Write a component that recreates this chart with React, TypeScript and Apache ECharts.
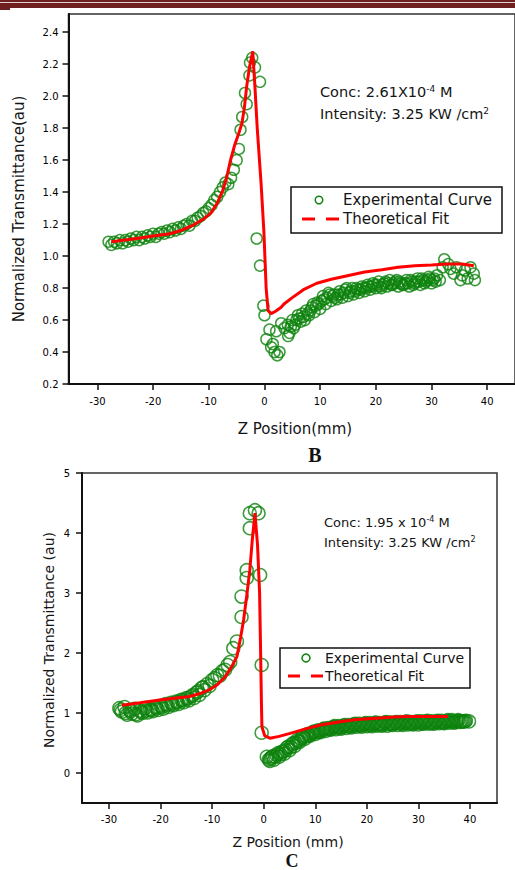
import React, { useEffect, useRef } from 'react';
import * as echarts from 'echarts';

// ---------- Panel B data ----------
const zTicksB = [-30, -20, -10, 0, 10, 20, 30, 40];
const tTicksB = [0.2, 0.4, 0.6, 0.8, 1.0, 1.2, 1.4, 1.6, 1.8, 2.0, 2.2, 2.4];

const expBz = [
  -28, -27.5, -27, -26.5, -26, -25.5, -25, -24.5, -24, -23.5, -23, -22.5, -22, -21.5, -21, -20.5, -20,
  -19.5, -19, -18.5, -18, -17.5, -17, -16.5, -16, -15.5, -15, -14.5, -14, -13.5, -13, -12.5, -12, -11.5,
  -11, -10.5, -10, -9.5, -9, -8.5, -8, -7.5, -7, -6.5, -6, -5.5, -5, -4.6, -4.3, -4.0, -3.5, -3.2, -2.7,
  -2.6, -2.2, -1.7, -0.8, -1.4, -0.8, -0.2, 0.0, 0.35, 0.9, 1.2, 1.5, 1.8, 2.1, 2.3, 2.7, 3.0,
  3.6, 4.2, 4.5, 5.0, 5.5, 6.0, 6.5, 7.0, 7.5, 8.0, 8.5, 9.0, 9.5, 10.0, 10.5, 11.0, 11.5, 12.0, 12.5,
  13.0, 13.5, 14.0, 14.5, 15.0, 15.5, 16.0, 16.5, 17.0, 17.5, 18.0, 18.5, 19.0, 19.5, 20.0, 20.5, 21.0,
  21.5, 22.0, 22.5, 23.0, 23.5, 24.0, 24.5, 25.0, 25.5, 26.0, 26.5, 27.0, 27.5, 28.0, 28.5, 29.0, 29.5,
  30.0, 30.5, 31.0, 31.5, 32.0, 32.3, 33.0, 33.4, 34.0, 34.5, 35.2, 35.5, 36.0, 36.5, 37.0, 37.6, 37.8,
];
const expBt = [
  1.09, 1.07, 1.09, 1.08, 1.10, 1.08, 1.10, 1.09, 1.11, 1.10, 1.12, 1.10, 1.12, 1.11, 1.13, 1.12, 1.14,
  1.12, 1.14, 1.15, 1.14, 1.16, 1.15, 1.17, 1.16, 1.18, 1.17, 1.19, 1.20, 1.19, 1.22, 1.22, 1.24, 1.25,
  1.27, 1.28, 1.30, 1.32, 1.35, 1.37, 1.40, 1.43, 1.46, 1.45, 1.49, 1.54, 1.60, 1.67, 1.79, 1.87, 2.02, 1.95, 2.13,
  2.21, 2.24, 2.18, 2.09, 1.11, 0.94, 0.69, 0.63, 0.48, 0.54, 0.43, 0.45, 0.40, 0.53, 0.38, 0.40, 0.58,
  0.55, 0.57, 0.52, 0.60, 0.57, 0.63, 0.59, 0.62, 0.66, 0.63, 0.68, 0.65, 0.71, 0.67, 0.75, 0.70, 0.77, 0.72, 0.76,
  0.73, 0.78, 0.74, 0.79, 0.75, 0.78, 0.76, 0.80, 0.77, 0.81, 0.78, 0.82, 0.79, 0.83, 0.80, 0.84, 0.80,
  0.83, 0.81, 0.85, 0.82, 0.84, 0.81, 0.83, 0.82, 0.85, 0.81, 0.84, 0.83, 0.86, 0.82, 0.85, 0.84, 0.87,
  0.83, 0.86, 0.88, 0.85, 0.93, 0.98, 0.95, 0.92, 0.89, 0.93, 0.85, 0.88, 0.91, 0.86, 0.93, 0.89, 0.85,
];
// extra (interleaved) readings of the dense band after the focus
const expB2z = [
  4.25, 4.75, 5.25, 5.75, 6.25, 6.75, 7.25, 7.75, 8.25, 8.75, 9.25, 9.75, 10.25, 10.75, 11.25, 11.75,
  12.25, 12.75, 13.25, 13.75, 14.25, 14.75, 15.25, 15.75, 16.25, 16.75, 17.25, 17.75, 18.25, 18.75,
  19.25, 19.75, 20.25, 20.75, 21.25, 21.75, 22.25, 22.75, 23.25, 23.75, 24.25, 24.75, 25.25, 25.75,
  26.25, 26.75, 27.25, 27.75, 28.25, 28.75, 29.25, 29.75, 30.25, 30.75,
];
const expB2t = [
  0.50, 0.56, 0.55, 0.60, 0.61, 0.64, 0.60, 0.64, 0.66, 0.70, 0.69, 0.70, 0.72, 0.73, 0.74, 0.76,
  0.75, 0.74, 0.76, 0.76, 0.77, 0.80, 0.77, 0.80, 0.78, 0.79, 0.79, 0.80, 0.80, 0.81,
  0.81, 0.82, 0.82, 0.81, 0.82, 0.84, 0.83, 0.82, 0.83, 0.85, 0.84, 0.82, 0.83, 0.83,
  0.85, 0.82, 0.84, 0.84, 0.86, 0.83, 0.85, 0.86, 0.85, 0.84,
];
const fitBz = [
  -27.5, -25, -22, -20, -17, -15, -13, -11, -9.6, -8.5, -7.5, -6.8, -6.1, -5.3, -4.6, -4.05, -3.6, -3.2,
  -2.7, -2.1, -1.7, -1.3, -0.6, -0.1, 0.3, 0.65, 1.2, 2, 3, 3.5, 5, 7, 9.4, 12, 15.3, 18, 21.1, 24, 27,
  30, 32.8, 35.5, 37.6,
];
const fitBt = [
  1.09, 1.10, 1.115, 1.125, 1.14, 1.16, 1.19, 1.23, 1.27, 1.33, 1.41, 1.49, 1.60, 1.70, 1.77, 1.83, 1.93, 2.06,
  2.18, 2.28, 2.05, 1.80, 1.45, 1.15, 0.80, 0.66, 0.64, 0.655, 0.68, 0.70, 0.74, 0.79, 0.83, 0.855, 0.88, 0.90,
  0.915, 0.93, 0.94, 0.945, 0.95, 0.95, 0.94,
];

// ---------- Panel C data ----------
const zTicksC = [-30, -20, -10, 0, 10, 20, 30, 40];
const tTicksC = [0, 1, 2, 3, 4, 5];

const expCz = [
  -28, -27.5, -27, -26.5, -26, -25.5, -25, -24.5, -24, -23.5, -23, -22.5, -22, -21.5, -21, -20.5, -20,
  -19.5, -19, -18.5, -18, -17.5, -17, -16.5, -16, -15.5, -15, -14.5, -14, -13.5, -13, -12.5, -12, -11.5,
  -11, -10.5, -10, -9.5, -9, -8.5, -8, -7.5, -7, -6.5, -5.9, -5.2, -4.3, -4.3, -3.3, -3.3, -2.7, -2.7,
  -1.7, -1.0, -0.7, -0.4, -0.4, 0.6, 1.0, 1.2, 1.5, 2.0, 2.5, 3.0, 3.5, 4.0, 4.5, 5.0, 5.5, 6.0, 6.5,
  7.0, 7.5, 8.0, 8.5, 9.0, 9.5, 10.0, 10.5, 11.0, 11.5, 12.0, 12.5, 13.0, 13.5, 14.0, 14.5, 15.0, 15.5,
  16.0, 16.5, 17.0, 17.5, 18.0, 18.5, 19.0, 19.5, 20.0, 20.5, 21, 21.5, 22, 22.5, 23, 23.5, 24, 24.5,
  25, 25.5, 26, 26.5, 27, 27.5, 28, 28.5, 29, 29.5, 30, 30.5, 31, 31.5, 32, 32.5, 33, 33.5, 34, 34.5,
  35, 35.5, 36, 36.5, 37, 37.5, 38, 38.5, 39.2, 39.8,
];
const expCt = [
  1.08, 1.02, 1.10, 0.97, 1.05, 0.99, 1.07, 0.96, 1.04, 1.00, 1.08, 1.01, 1.06, 1.03, 1.10, 1.05, 1.12,
  1.07, 1.15, 1.10, 1.17, 1.13, 1.19, 1.15, 1.22, 1.18, 1.25, 1.21, 1.28, 1.25, 1.34, 1.30, 1.42, 1.38,
  1.48, 1.45, 1.55, 1.58, 1.63, 1.62, 1.70, 1.72, 1.80, 1.85, 2.08, 2.19, 2.60, 2.94, 3.25, 3.38, 4.08, 4.33,
  4.38, 4.33, 3.30, 1.80, 0.67, 0.27, 0.22, 0.20, 0.26, 0.22, 0.30, 0.27, 0.35, 0.32, 0.42, 0.38, 0.48, 0.45, 0.55,
  0.52, 0.60, 0.57, 0.65, 0.62, 0.68, 0.65, 0.71, 0.68, 0.73, 0.70, 0.75, 0.72, 0.77, 0.73, 0.78, 0.74, 0.79,
  0.75, 0.80, 0.76, 0.81, 0.77, 0.82, 0.77, 0.82, 0.78, 0.83, 0.78, 0.83, 0.79, 0.83, 0.79, 0.84, 0.79, 0.84,
  0.80, 0.84, 0.80, 0.85, 0.80, 0.85, 0.81, 0.85, 0.81, 0.85, 0.81, 0.86, 0.82, 0.86, 0.82, 0.86, 0.82, 0.86, 0.83, 0.87,
  0.83, 0.87, 0.84, 0.88, 0.84, 0.87, 0.85, 0.86, 0.87, 0.86,
];
// extra (interleaved) readings of the dense bands
const expC2z = [
  -27.75, -26.75, -25.75, -24.75, -23.75, -22.75, -21.75, -20.75, -19.75, -18.75, -17.75, -16.75,
  -15.75, -14.75, -13.75, -12.75, -11.75,
  1.25, 1.75, 2.25, 2.75, 3.25, 3.75, 4.25, 4.75, 5.25, 5.75, 6.25, 6.75, 7.25, 7.75, 8.25, 8.75,
  9.25, 9.75, 10.25, 10.75, 11.25, 11.75, 12.25, 12.75, 13.25, 13.75, 14.25, 14.75, 15.25, 15.75,
  16.25, 16.75, 17.25, 17.75, 18.25, 18.75, 19.25, 19.75, 20.25, 20.75, 21.25, 21.75, 22.25, 22.75,
  23.25, 23.75, 24.25, 24.75, 25.25, 25.75, 26.25, 26.75, 27.25, 27.75, 28.25, 28.75, 29.25, 29.75,
  30.25, 30.75, 31.25, 31.75, 32.25, 32.75, 33.25, 33.75, 34.25, 34.75, 35.25, 35.75, 36.25, 36.75,
  37.25, 37.75, 38.25, 38.75, 39.0,
];
const expC2t = [
  1.05, 1.00, 1.03, 0.98, 1.02, 1.04, 1.05, 1.08, 1.10, 1.13, 1.15, 1.18,
  1.21, 1.24, 1.30, 1.36, 1.43,
  0.24, 0.28, 0.27, 0.33, 0.31, 0.36, 0.38, 0.44, 0.43, 0.50, 0.50, 0.53, 0.57, 0.62, 0.61, 0.63,
  0.66, 0.69, 0.68, 0.69, 0.71, 0.74, 0.73, 0.73, 0.75, 0.78, 0.76, 0.75, 0.77, 0.80,
  0.78, 0.77, 0.79, 0.82, 0.80, 0.79, 0.80, 0.83, 0.81, 0.80, 0.81, 0.84, 0.81, 0.80,
  0.82, 0.85, 0.82, 0.81, 0.82, 0.85, 0.83, 0.82, 0.83, 0.86, 0.83, 0.82, 0.84, 0.86,
  0.84, 0.83, 0.84, 0.87, 0.84, 0.83, 0.85, 0.87, 0.85, 0.84, 0.85, 0.88, 0.86, 0.85,
  0.86, 0.88, 0.86, 0.86, 0.86,
];
const fitCz = [
  -27.5, -24, -19.8, -17, -14.6, -12.5, -10.7, -9, -7.5, -6.3, -5.2, -4.5, -3.9, -3.3, -2.7, -2.2, -1.7,
  -1.2, -0.8, -0.6, -0.45, -0.35, 0.2, 1.2, 3, 5.1, 8.3, 11, 14.8, 18, 21.2, 24.5, 27.6, 31, 35.7,
];
const fitCt = [
  1.13, 1.17, 1.22, 1.25, 1.27, 1.32, 1.38, 1.47, 1.60, 1.76, 1.94, 2.25, 2.55, 2.95, 3.38, 3.90, 4.33,
  3.80, 3.00, 2.00, 1.20, 0.77, 0.62, 0.58, 0.61, 0.66, 0.74, 0.80, 0.855, 0.89, 0.91, 0.93, 0.94, 0.94, 0.94,
];

const GREEN = '#0c820c';
const RED = '#ff0000';
const TXT = '#151515';
const FONT = '"DejaVu Sans", sans-serif';
const AX = '#111';

function pairs(xs: number[], ys: number[]) {
  return xs.map((x, i) => [x, ys[i]]);
}

export default function App() {
  const ref = useRef<HTMLDivElement>(null);
  useEffect(() => {
    if (!ref.current) return;
    const chart = echarts.init(ref.current, undefined, { renderer: 'svg' });

    const axisCommon = (ticks: number[], fmt: (v: number) => string, margin: number) => ({
      type: 'value' as const,
      axisLine: { show: true, onZero: false, lineStyle: { color: AX, width: 2 } },
      axisTick: { show: true, inside: false, length: 6, lineStyle: { color: AX, width: 1.5 }, customValues: ticks },
      axisLabel: { customValues: ticks, formatter: fmt, fontSize: 10, color: '#000', fontFamily: FONT, margin },
      splitLine: { show: false },
    });

    const expStyle = { color: 'rgba(0,0,0,0)', borderColor: GREEN, borderWidth: 1.5 };

    const option: any = {
      animation: false,
      backgroundColor: '#fff',
      grid: [
        { left: 68.5, top: 14, width: 456, height: 370, show: true, borderColor: '#333', borderWidth: 1.5, backgroundColor: 'transparent' },
        { left: 82, top: 473, width: 415, height: 330, show: true, borderColor: '#333', borderWidth: 1.5, backgroundColor: 'transparent' },
      ],
      xAxis: [
        { gridIndex: 0, min: -35.2, max: 45, ...axisCommon(zTicksB, (v: number) => String(v), 12) },
        { gridIndex: 1, min: -35.24, max: 45.24, ...axisCommon(zTicksC, (v: number) => String(v), 11) },
      ],
      yAxis: [
        { gridIndex: 0, min: 0.2, max: 2.514, ...axisCommon(tTicksB, (v: number) => v.toFixed(1), 10) },
        { gridIndex: 1, min: -0.5, max: 5, ...axisCommon(tTicksC, (v: number) => String(Math.round(v)), 12) },
      ],
      series: [
        {
          type: 'scatter', xAxisIndex: 0, yAxisIndex: 0, data: pairs(expBz, expBt).concat(pairs(expB2z, expB2t)),
          symbol: 'circle', symbolSize: 11, itemStyle: expStyle, silent: true, z: 2,
        },
        {
          type: 'line', xAxisIndex: 0, yAxisIndex: 0, data: pairs(fitBz, fitBt), symbol: 'none', showSymbol: false,
          lineStyle: { color: RED, width: 3 }, silent: true, z: 3,
        },
        {
          type: 'scatter', xAxisIndex: 1, yAxisIndex: 1, data: pairs(expCz, expCt).concat(pairs(expC2z, expC2t)),
          symbol: 'circle', symbolSize: 13, itemStyle: expStyle, silent: true, z: 2,
        },
        {
          type: 'line', xAxisIndex: 1, yAxisIndex: 1, data: pairs(fitCz, fitCt), symbol: 'none', showSymbol: false,
          lineStyle: { color: RED, width: 3 }, silent: true, z: 3,
        },
      ],
      graphic: [
        // top page band
        { type: 'rect', z: 100, shape: { x: 0, y: 0, width: 515, height: 8 }, style: { fill: '#6e2020' } },
        { type: 'rect', z: 101, shape: { x: 0, y: 2, width: 515, height: 1 }, style: { fill: '#e6cccc' } },
        { type: 'rect', z: 100, shape: { x: 0, y: 8, width: 10, height: 2 }, style: { fill: '#6e2020' } },

        // panel B annotations
        {
          type: 'text', z: 100, x: 320, y: 92,
          style: {
            text: 'Conc: 2.61X10{sup|-4} M', fill: TXT, fontSize: 14.5, fontFamily: FONT, verticalAlign: 'middle',
            rich: { sup: { fontSize: 9, fontFamily: FONT, fill: TXT, verticalAlign: 'top', lineHeight: 10 } },
          },
        },
        {
          type: 'text', z: 100, x: 320, y: 114,
          style: {
            text: 'Intensity: 3.25 KW /cm{sup|2}', fill: TXT, fontSize: 14.5, fontFamily: FONT, verticalAlign: 'middle',
            rich: { sup: { fontSize: 9, fontFamily: FONT, fill: TXT, verticalAlign: 'top', lineHeight: 10 } },
          },
        },
        // panel B legend
        { type: 'rect', z: 100, shape: { x: 291, y: 187, width: 211, height: 46 }, style: { fill: '#fff', stroke: '#111', lineWidth: 1.5 } },
        { type: 'circle', z: 101, shape: { cx: 319, cy: 200, r: 3.8 }, style: { fill: 'none', stroke: GREEN, lineWidth: 1.5 } },
        { type: 'text', z: 101, x: 343, y: 200, style: { text: 'Experimental Curve', fill: TXT, fontSize: 15, fontFamily: FONT, verticalAlign: 'middle' } },
        { type: 'line', z: 101, shape: { x1: 302, y1: 219, x2: 342, y2: 219 }, style: { stroke: RED, lineWidth: 3, lineDash: [13, 11] } },
        { type: 'text', z: 101, x: 343, y: 219, style: { text: 'Theoretical Fit', fill: TXT, fontSize: 15, fontFamily: FONT, verticalAlign: 'middle' } },
        // panel B axis titles
        {
          type: 'text', z: 100, x: 19, y: 209, rotation: Math.PI / 2,
          style: { text: 'Normalized Transmittance(au)', fill: TXT, fontSize: 15, fontFamily: FONT, align: 'center', verticalAlign: 'middle' },
        },
        { type: 'text', z: 100, x: 295, y: 429, style: { text: 'Z Position(mm)', fill: TXT, fontSize: 15, fontFamily: FONT, align: 'center', verticalAlign: 'middle' } },
        { type: 'text', z: 100, x: 315, y: 455, style: { text: 'B', fill: '#111', fontSize: 20, fontWeight: 'bold', fontFamily: '"Liberation Serif", serif', align: 'center', verticalAlign: 'middle' } },

        // panel C annotations
        {
          type: 'text', z: 100, x: 324, y: 522,
          style: {
            text: 'Conc: 1.95 x 10{sup|-4} M', fill: TXT, fontSize: 13, fontFamily: FONT, verticalAlign: 'middle',
            rich: { sup: { fontSize: 8, fontFamily: FONT, fill: TXT, verticalAlign: 'top', lineHeight: 9 } },
          },
        },
        {
          type: 'text', z: 100, x: 324, y: 542,
          style: {
            text: 'Intensity: 3.25 KW /cm{sup|2}', fill: TXT, fontSize: 13, fontFamily: FONT, verticalAlign: 'middle',
            rich: { sup: { fontSize: 8, fontFamily: FONT, fill: TXT, verticalAlign: 'top', lineHeight: 9 } },
          },
        },
        // panel C legend
        { type: 'rect', z: 100, shape: { x: 280, y: 648, width: 190, height: 40 }, style: { fill: '#fff', stroke: '#111', lineWidth: 1.5 } },
        { type: 'circle', z: 101, shape: { cx: 306, cy: 658, r: 4 }, style: { fill: 'none', stroke: GREEN, lineWidth: 1.5 } },
        { type: 'text', z: 101, x: 325, y: 658, style: { text: 'Experimental Curve', fill: TXT, fontSize: 14, fontFamily: FONT, verticalAlign: 'middle' } },
        { type: 'line', z: 101, shape: { x1: 288, y1: 676, x2: 323, y2: 676 }, style: { stroke: RED, lineWidth: 3, lineDash: [12, 11] } },
        { type: 'text', z: 101, x: 325, y: 676, style: { text: 'Theoretical Fit', fill: TXT, fontSize: 14, fontFamily: FONT, verticalAlign: 'middle' } },
        // panel C axis titles
        {
          type: 'text', z: 100, x: 49, y: 640, rotation: Math.PI / 2,
          style: { text: 'Normalized Transmittance (au)', fill: TXT, fontSize: 14, fontFamily: FONT, align: 'center', verticalAlign: 'middle' },
        },
        { type: 'text', z: 100, x: 288, y: 842, style: { text: 'Z Position (mm)', fill: TXT, fontSize: 14, fontFamily: FONT, align: 'center', verticalAlign: 'middle' } },
        { type: 'text', z: 100, x: 292, y: 861, style: { text: 'C', fill: '#111', fontSize: 18, fontWeight: 'bold', fontFamily: '"Liberation Serif", serif', align: 'center', verticalAlign: 'middle' } },
      ],
    };
    chart.setOption(option);
    return () => chart.dispose();
  }, []);

  return (
    <div
      ref={ref}
      style={{ position: 'fixed', left: 0, top: 0, width: 515, height: 870, background: '#fff' }}
    />
  );
}
